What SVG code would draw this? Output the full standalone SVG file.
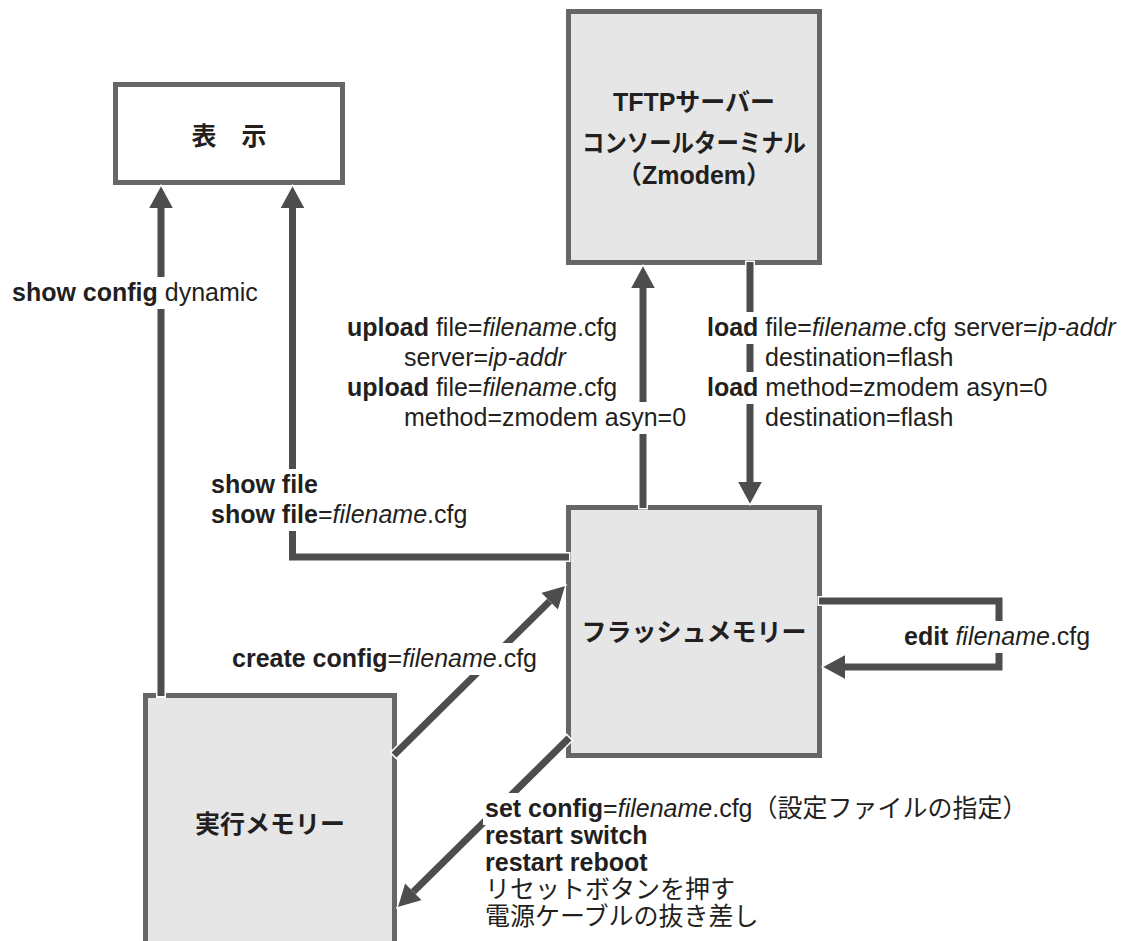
<svg xmlns="http://www.w3.org/2000/svg" width="1137" height="941" viewBox="0 0 1137 941">
<style>
.box{stroke:#666666;stroke-width:5}
.white{fill:#ffffff}
.gray{fill:#e6e6e6}
.ntext{font-family:'Liberation Sans','Noto Sans CJK JP',sans-serif;font-size:25px;font-weight:bold;fill:#231f20;text-anchor:middle}
.conn{fill:none;stroke:#4d4d4d;stroke-width:7;stroke-linejoin:miter}
.halo{fill:none;stroke:#ffffff;stroke-width:10}
.lbl{font-family:'Liberation Sans','Noto Sans CJK JP',sans-serif;font-size:25px;fill:#231f20}
.bg{fill:#ffffff}
.b{font-weight:bold}
.i{font-style:italic}
</style>
<defs>
<marker id="ah" markerUnits="userSpaceOnUse" markerWidth="30" markerHeight="30" viewBox="-2 -15 28 30" refX="0" refY="0" orient="auto" overflow="visible">
<path d="M0,-12.5 L23,0 L0,12.5" fill="#4d4d4d" stroke="#ffffff" stroke-width="1.3"/>
</marker>
</defs>
<rect width="1137" height="941" fill="#ffffff"/>

<g id="node-display">
<rect class="box white" x="115.5" y="84.5" width="227" height="98"/>
<text class="ntext" x="229" y="145">表　示</text>
</g>
<g id="node-tftp">
<rect class="box gray" x="568.5" y="11.5" width="251" height="251"/>
<text class="ntext" x="694" y="111">TFTPサーバー</text>
<text class="ntext" x="694" y="152" textLength="224" lengthAdjust="spacingAndGlyphs">コンソールターミナル</text>
<text class="ntext" x="694" y="184">（Zmodem）</text>
</g>
<g id="node-flash">
<rect class="box gray" x="568.5" y="507.5" width="251" height="248"/>
<text class="ntext" x="694" y="641">フラッシュメモリー</text>
</g>
<g id="node-exec">
<rect class="box gray" x="145.5" y="695.5" width="249" height="270"/>
<text class="ntext" x="270" y="833">実行メモリー</text>
</g>

<g id="connectors">
<path class="halo" d="M161,698 V215"/>
<path class="conn" d="M161,696 V208" marker-end="url(#ah)"/>
<path class="halo" d="M570.5,557 H300"/>
<path class="conn" d="M569,557 H292.5 V208" marker-end="url(#ah)"/>
<path class="halo" d="M643,509.5 V295"/>
<path class="conn" d="M643,508 V288" marker-end="url(#ah)"/>
<path class="halo" d="M750,260.5 V475"/>
<path class="conn" d="M750,262 V482" marker-end="url(#ah)"/>
<path class="halo" d="M392.9,756.1 L540,611"/>
<path class="conn" d="M394,755 L549.64,601.17" marker-end="url(#ah)"/>
<path class="halo" d="M570.1,736.9 L420,885"/>
<path class="conn" d="M569,738 L413.36,891.83" marker-end="url(#ah)"/>
<path class="halo" d="M817.5,601 H990"/>
<path class="conn" d="M819,601 H999 V667 H845" marker-end="url(#ah)"/>
</g>

<g id="labels">
<rect class="bg" x="10" y="277" width="252" height="32"/>
<text class="lbl" x="12" y="301"><tspan class="b">show config</tspan> dynamic</text>

<rect class="bg" x="209" y="469" width="112" height="32"/>
<rect class="bg" x="209" y="499" width="262" height="32"/>
<text class="lbl" x="211" y="493"><tspan class="b">show file</tspan></text>
<text class="lbl" x="211" y="523"><tspan class="b">show file</tspan>=<tspan class="i">filename</tspan>.cfg</text>

<rect class="bg" x="402" y="402" width="288" height="32"/>
<text class="lbl" x="347" y="336"><tspan class="b">upload</tspan> file=<tspan class="i">filename</tspan>.cfg</text>
<text class="lbl" x="404" y="366">server=<tspan class="i">ip-addr</tspan></text>
<text class="lbl" x="347" y="396"><tspan class="b">upload</tspan> file=<tspan class="i">filename</tspan>.cfg</text>
<text class="lbl" x="404" y="426">method=zmodem asyn=0</text>

<rect class="bg" x="705" y="312" width="412" height="32"/>
<rect class="bg" x="705" y="372" width="345" height="32"/>
<text class="lbl" x="707" y="336"><tspan class="b">load</tspan> file=<tspan class="i">filename</tspan>.cfg server=<tspan class="i">ip-addr</tspan></text>
<text class="lbl" x="765" y="366">destination=flash</text>
<text class="lbl" x="707" y="396"><tspan class="b">load</tspan> method=zmodem asyn=0</text>
<text class="lbl" x="765" y="426">destination=flash</text>

<rect class="bg" x="230" y="643" width="310" height="32"/>
<text class="lbl" x="232" y="667"><tspan class="b">create config</tspan>=<tspan class="i">filename</tspan>.cfg</text>

<rect class="bg" x="902" y="621" width="190" height="32"/>
<text class="lbl" x="904" y="645"><tspan class="b">edit</tspan> <tspan class="i">filename</tspan>.cfg</text>

<rect class="bg" x="483" y="793" width="527" height="32"/>
<text class="lbl" x="485" y="817"><tspan class="b">set config</tspan>=<tspan class="i">filename</tspan>.cfg（設定ファイルの指定）</text>
<text class="lbl b" x="485" y="844">restart switch</text>
<text class="lbl b" x="485" y="871">restart reboot</text>
<text class="lbl" x="485" y="898">リセットボタンを押す</text>
<text class="lbl" x="485" y="925">電源ケーブルの抜き差し</text>
</g>
</svg>
